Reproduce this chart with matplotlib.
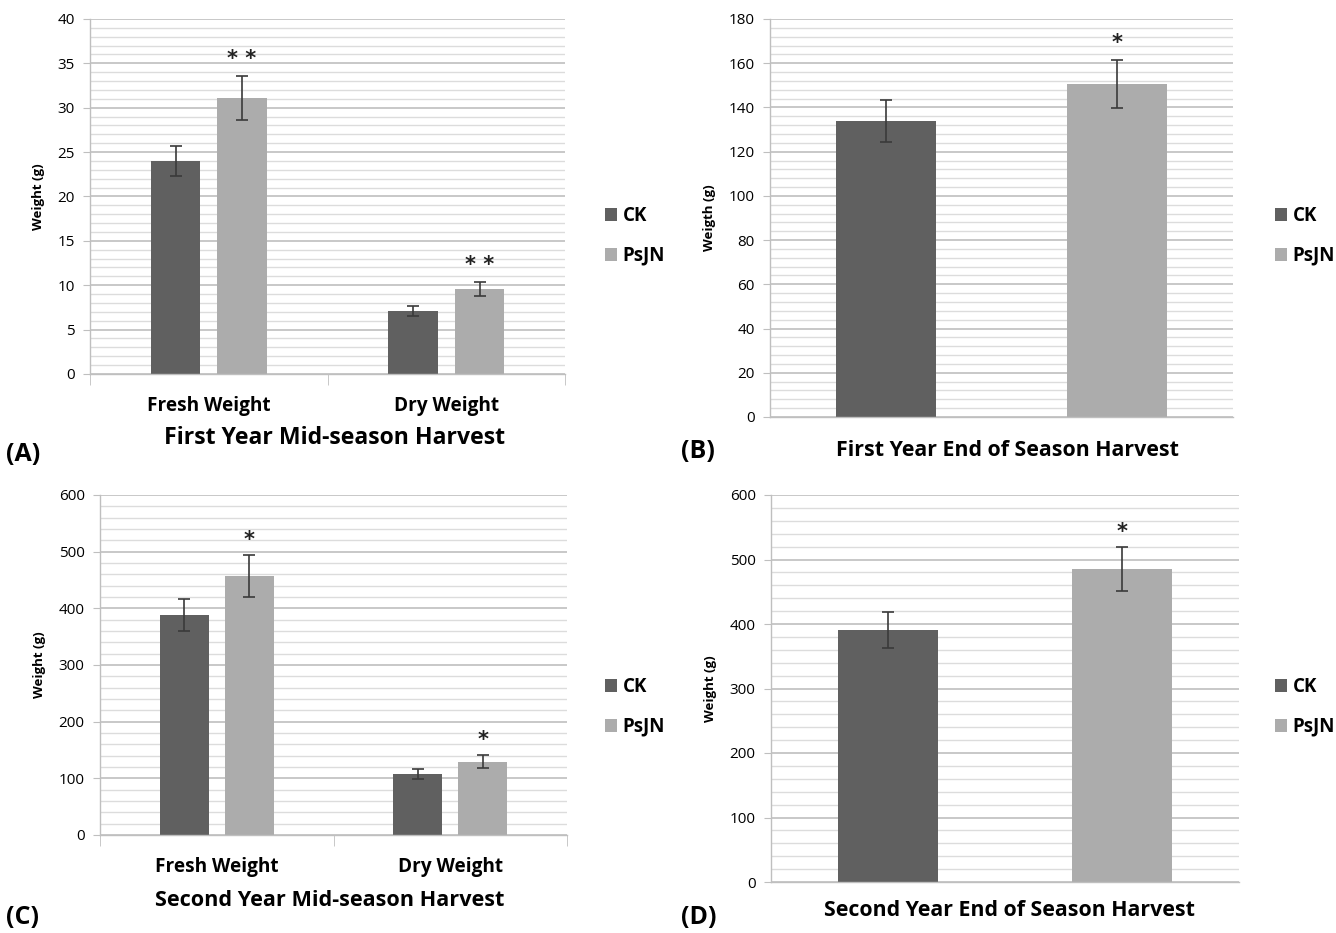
import matplotlib
matplotlib.use("Agg")
from matplotlib import pyplot as plt
from matplotlib.ticker import MultipleLocator, FixedLocator

plt.rcParams['font.family'] = ['Open Sans', 'DejaVu Sans']

# ---- data ----
series = ["CK", "PsJN"]
mid_categories = ["Fresh Weight", "Dry Weight"]

a_ck = [24.0, 7.1]
a_ck_err = [1.7, 0.55]
a_psjn = [31.1, 9.6]
a_psjn_err = [2.5, 0.8]
a_marks = ["**", "**"]

b_values = [134.0, 150.5]
b_err = [9.5, 10.8]
b_marks = ["", "*"]

c_ck = [388, 107]
c_ck_err = [28, 9]
c_psjn = [457, 129.5]
c_psjn_err = [37, 11.5]
c_marks = ["*", "*"]

d_values = [391, 485]
d_err = [28, 34]
d_marks = ["", "*"]

CK_COLOR = "#606060"
PS_COLOR = "#acacac"
GRID_MAJOR = "#c4c4c4"
GRID_MINOR = "#dcdcdc"
ERR_COLOR = "#3a3a3a"

W, H = 1336, 933
fig = plt.figure(figsize=(W / 100, H / 100), dpi=100)


def px_axes(left, top, right, bottom):
    return fig.add_axes([left / W, 1 - bottom / H, (right - left) / W, (bottom - top) / H])


def style(ax, ymax, major, minor, ylabel, cat_size=None):
    ax.set_ylim(0, ymax)
    ax.set_xlim(-0.5, 1.5)
    ax.yaxis.set_major_locator(MultipleLocator(major))
    ax.yaxis.set_minor_locator(MultipleLocator(minor))
    ax.grid(which="major", axis="y", color=GRID_MAJOR, lw=1.3)
    ax.grid(which="minor", axis="y", color=GRID_MINOR, lw=1.0)
    ax.set_axisbelow(True)
    for s in ["top", "right"]:
        ax.spines[s].set_visible(False)
    for s in ["left", "bottom"]:
        ax.spines[s].set_color("#bfbfbf")
        ax.spines[s].set_linewidth(1.0)
    ax.tick_params(axis="y", which="major", length=5, color="#bfbfbf", labelsize=11, pad=6)
    ax.tick_params(axis="y", which="minor", length=0)
    ax.set_ylabel(ylabel, fontsize=9.5, fontweight="bold", labelpad=9)
    if cat_size:
        ax.set_xticks([0, 1])
        ax.set_xticklabels(mid_categories, fontsize=cat_size, fontweight="bold")
        ax.xaxis.set_minor_locator(FixedLocator([-0.5, 0.5, 1.5]))
        ax.tick_params(axis="x", which="major", length=0, pad=16)
        ax.tick_params(axis="x", which="minor", length=8, color="#bfbfbf")
    else:
        ax.set_xticks([])


def legend(ax, x, y):
    ax.legend(loc="center left", bbox_to_anchor=(x / W, 1 - y / H), bbox_transform=fig.transFigure,
              frameon=False, handlelength=0.65, handleheight=0.65, handletextpad=0.3,
              labelspacing=1.05, prop={"weight": "bold", "size": 13.5})


def stars(ax, xs, tops, marks, gap):
    for x, t, m in zip(xs, tops, marks):
        if m:
            ax.text(x, t + gap, " ".join(m), ha="center", va="center", fontsize=15,
                    fontweight="bold", family="DejaVu Sans", color="#222222")


ekw = dict(ecolor=ERR_COLOR, elinewidth=1.2, capsize=4, capthick=1.2)

# (A)
ax = px_axes(90, 19, 565, 374)
xs = [0, 1]
bw, off = 0.21, 0.14
ax.bar([x - off for x in xs], a_ck, bw, yerr=a_ck_err, color=CK_COLOR, label=series[0], error_kw=ekw)
ax.bar([x + off for x in xs], a_psjn, bw, yerr=a_psjn_err, color=PS_COLOR, label=series[1], error_kw=ekw)
style(ax, 40, 5, 1, "Weight (g)", 13.7)
stars(ax, [x + off for x in xs], [v + e for v, e in zip(a_psjn, a_psjn_err)], a_marks, 1.9)
legend(ax, 588, 236)

# (B)
ax = px_axes(770, 19, 1233, 417)
bars = ax.bar(xs, b_values, 0.43, yerr=b_err, color=[CK_COLOR, PS_COLOR], error_kw=ekw)
bars[0].set_label(series[0])
bars[1].set_label(series[1])
style(ax, 180, 20, 4, "Weigth (g)")
stars(ax, xs, [v + e for v, e in zip(b_values, b_err)], b_marks, 8)
legend(ax, 1258, 236)

# (C)
ax = px_axes(100, 495, 567, 835)
ax.bar([x - off for x in xs], c_ck, bw, yerr=c_ck_err, color=CK_COLOR, label=series[0], error_kw=ekw)
ax.bar([x + off for x in xs], c_psjn, bw, yerr=c_psjn_err, color=PS_COLOR, label=series[1], error_kw=ekw)
style(ax, 600, 100, 20, "Weight (g)", 13.7)
stars(ax, [x + off for x in xs], [v + e for v, e in zip(c_psjn, c_psjn_err)], c_marks, 26)
legend(ax, 588, 707)

# (D)
ax = px_axes(771, 495, 1239, 882)
bars = ax.bar(xs, d_values, 0.43, yerr=d_err, color=[CK_COLOR, PS_COLOR], error_kw=ekw)
bars[0].set_label(series[0])
bars[1].set_label(series[1])
style(ax, 600, 100, 20, "Weight (g)")
stars(ax, xs, [v + e for v, e in zip(d_values, d_err)], d_marks, 24)
legend(ax, 1258, 707)

# titles and panel letters
tkw = dict(ha="center", va="center", fontweight="bold")
fig.text(334 / W, 1 - 438 / H, "First Year Mid-season Harvest", fontsize=16.6, **tkw)
fig.text(1008 / W, 1 - 450 / H, "First Year End of Season Harvest", fontsize=15.4, **tkw)
fig.text(330 / W, 1 - 901 / H, "Second Year Mid-season Harvest", fontsize=15.6, **tkw)
fig.text(1009 / W, 1 - 911 / H, "Second Year End of Season Harvest", fontsize=15.4, **tkw)

lkw = dict(ha="left", va="center", fontsize=18, fontweight="bold")
fig.text(6 / W, 1 - 455 / H, "(A)", **lkw)
fig.text(681 / W, 1 - 452 / H, "(B)", **lkw)
fig.text(6 / W, 1 - 917 / H, "(C)", **lkw)
fig.text(681 / W, 1 - 917 / H, "(D)", **lkw)

fig.savefig("out.png", dpi=100, facecolor="white")
